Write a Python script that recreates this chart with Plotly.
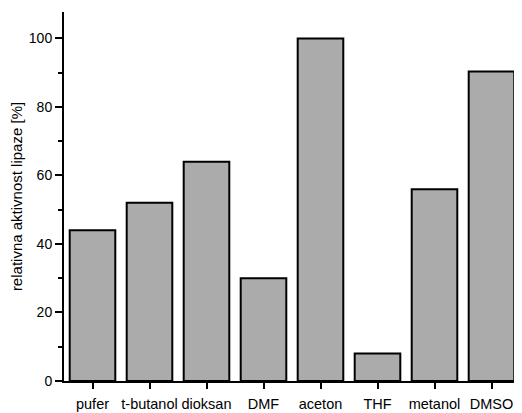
import plotly.graph_objects as go

categories = ["pufer", "t-butanol", "dioksan", "DMF", "aceton", "THF", "metanol", "DMSO"]
activity = [44, 52, 64, 30, 100, 8, 56, 90.3]
y_ticks = [0, 20, 40, 60, 80, 100]
y_minor_ticks = [10, 30, 50, 70, 90]

fig = go.Figure(go.Bar(
    x=categories, y=activity,
    marker=dict(color="#ABABAB", line=dict(color="black", width=2)),
))

# page body adds an 8px offset; figure size and margins compensate for it
fig.update_layout(
    width=514, height=405,
    margin=dict(l=56, r=2, t=4, b=32, autoexpand=False),
    paper_bgcolor="white", plot_bgcolor="white",
    bargap=0.2, showlegend=False,
    font=dict(family="Liberation Sans, Arial, sans-serif", color="black"),
)
fig.update_xaxes(
    type="category", range=[-0.5, 7.5],
    showline=True, linecolor="black", linewidth=2,
    ticks="outside", ticklen=6, tickwidth=2, tickcolor="black",
    tickfont=dict(size=14.5), tickangle=0, showgrid=False, zeroline=False,
    ticklabelstandoff=3,
)
fig.update_yaxes(
    range=[0, 107.7], tickvals=y_ticks,
    showline=True, linecolor="black", linewidth=2,
    ticks="outside", ticklen=7, tickwidth=2, tickcolor="black",
    tickfont=dict(size=14), showgrid=False, zeroline=False,
    minor=dict(tickvals=y_minor_ticks, ticks="outside", ticklen=4, tickwidth=2, tickcolor="black", showgrid=False),
    title=dict(text="relativna aktivnost lipaze [%]", font=dict(size=15), standoff=10),
)
fig.write_html("out.html")
